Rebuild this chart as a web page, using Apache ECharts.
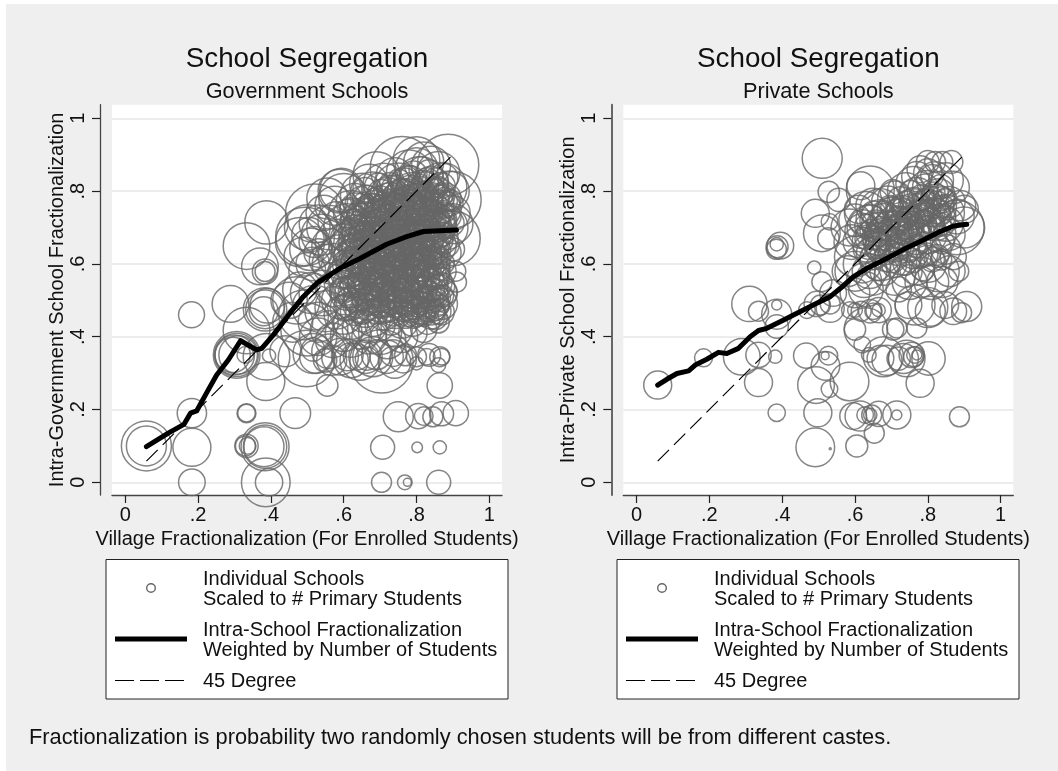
<!DOCTYPE html>
<html><head><meta charset="utf-8">
<style>html,body{margin:0;padding:0;background:#fff}#c{width:1058px;height:771px}</style>
<script src="https://cdn.jsdelivr.net/npm/echarts@6/dist/echarts.min.js"></script>
</head><body><div id="c"></div>
<script>
// tick values and labels
const tickValues = [0, 0.2, 0.4, 0.6, 0.8, 1];
const tickLabels = {0:'0', 0.2:'.2', 0.4:'.4', 0.6:'.6', 0.8:'.8', 1:'1'};
// [village fractionalization, school fractionalization, primary students]
const govOuter = [
[.058,.10,625],[.058,.10,400],[.182,.46,169],[.183,.19,215],[.183,.096,361],[.183,0,177],[.333,.19,90],[.333,.19,78],
[.333,.10,136],[.33,.10,100],[.336,.10,70],[.384,.098,576],[.384,.098,470],[.381,.098,400],[.386,0,592],[.395,0,187],
[.467,.19,235],[.75,.18,225],[.805,.182,160],[.82,.182,87],[.845,.18,100],[.869,.188,144],[.908,.19,160],
[.707,.096,144],[.802,.096,28],[.864,.096,44],[.704,0,100],[.768,0,54],[.775,0,16],[.861,0,144],[.864,.266,160],[.555,.266,114],[.386,.277,361],
[.306,.35,544],[.306,.35,470],[.3,.35,400],[.31,.35,370],[.295,.35,310],[.388,.345,544],[.395,.348,44],[.33,.35,70],
[.498,.34,802],[.516,.354,400],[.516,.365,136],[.525,.345,278],[.59,.345,336],[.645,.335,400],[.66,.345,278],[.704,.332,1002],[.68,.345,400],[.718,.345,278],
[.763,.337,178],[.80,.345,100],[.828,.345,69],[.864,.345,100],[.86,.322,54],[.869,.345,69],[.80,.327,44],[.567,.335,225],[.549,.335,136],[.636,.345,178],[.664,.34,136],[.736,.355,178],
[.62,.335,300],[.61,.35,250],[.69,.35,220],[.74,.33,260],[.77,.35,120],[.835,.35,130],[.56,.36,300],[.44,.36,240],
[.333,.649,544],[.388,.714,470],[.384,.579,160],[.384,.579,100],[.37,.593,336],[.289,.49,336],[.333,.417,544],[.384,.475,470],[.384,.475,374],[.39,.485,300],[.38,.47,210],
[.494,.675,860],[.521,.739,860],[.48,.66,600],[.50,.70,520],[.51,.64,450],[.49,.62,380],[.505,.68,300],[.52,.66,240],[.53,.71,360],[.54,.68,420],[.515,.60,280],[.50,.58,340],
[.53,.63,200],[.545,.74,310],[.56,.70,500],[.555,.78,420],[.575,.76,380],[.59,.80,480],[.60,.78,620],[.56,.65,300],[.58,.72,340],[.55,.61,260],[.57,.60,420],[.585,.66,520],
[.47,.50,560],[.49,.46,620],[.50,.42,700],[.52,.48,500],[.53,.44,400],[.55,.47,420],[.56,.42,350],[.58,.48,460],[.60,.46,380],[.48,.53,300],[.51,.52,420],[.54,.52,520],[.57,.53,300],
[.46,.44,400],[.45,.50,330],[.53,.40,350],[.57,.39,300],[.60,.41,340],[.62,.40,420],[.65,.42,380],[.67,.40,300],[.70,.41,460],[.72,.39,340],[.74,.42,310],[.76,.40,250],[.79,.41,200],[.82,.42,170],
[.76,.863,1002],[.887,.872,940],[.80,.885,544],[.90,.776,802],[.90,.67,747],[.69,.844,544],[.594,.803,470],[.908,.58,100],[.91,.55,100],[.90,.64,136],[.90,.71,400]
];
const govCore = [
[.82,.88,400],[.80,.86,460],[.84,.87,380],[.78,.85,520],[.86,.85,460],[.74,.84,350],[.71,.82,420],[.67,.82,380],[.65,.79,460],[.63,.77,340],[.68,.79,520],[.72,.79,300],[.75,.81,600],[.78,.82,340],[.81,.83,560],[.84,.82,300],[.87,.81,620],[.89,.80,400],[.86,.79,280],[.82,.80,420],
[.79,.79,500],[.76,.78,360],[.73,.76,540],[.70,.77,260],[.66,.76,420],[.62,.74,500],[.64,.72,300],[.68,.74,380],[.71,.73,460],[.75,.74,320],[.78,.76,260],[.81,.77,340],[.84,.76,520],[.87,.75,360],[.90,.74,300],[.88,.78,240],
[.61,.70,560],[.63,.69,260],[.66,.71,440],[.69,.70,300],[.72,.70,520],[.74,.71,240],[.77,.72,420],[.80,.73,300],[.83,.72,460],[.86,.72,260],[.88,.70,500],[.85,.69,340],[.82,.69,280],[.79,.68,440],[.76,.69,300],[.73,.67,380],
[.70,.66,500],[.67,.67,280],[.64,.66,400],[.61,.65,340],[.59,.62,480],[.62,.62,300],[.65,.63,520],[.68,.63,260],[.71,.62,440],[.74,.64,300],[.77,.65,460],[.80,.65,260],[.83,.66,380],[.86,.65,320],[.88,.63,240],[.85,.62,160],
[.82,.62,340],[.79,.61,300],[.76,.61,500],[.73,.60,280],[.70,.59,420],[.67,.60,340],[.64,.59,480],[.61,.58,300],[.60,.55,380],[.63,.56,260],[.66,.56,440],[.69,.56,300],[.72,.57,380],[.75,.57,260],[.78,.58,420],[.81,.58,300],
[.84,.58,360],[.87,.58,200],[.85,.55,300],[.82,.55,260],[.79,.54,380],[.76,.54,300],[.73,.54,460],[.70,.53,260],[.67,.53,340],[.64,.52,400],[.61,.52,300],[.59,.50,340],[.62,.49,260],[.65,.49,360],[.68,.50,220],[.71,.50,300],
[.74,.50,180],[.77,.51,340],[.80,.51,260],[.83,.52,300],[.86,.52,340],[.87,.49,240],[.84,.49,320],[.81,.48,260],[.78,.48,160],[.75,.48,90],[.72,.48,220],[.69,.47,160],[.66,.47,260],[.63,.47,200],[.60,.48,180],[.84,.46,200],
[.86,.47,160],[.82,.46,130],[.80,.47,240],[.77,.46,180],[.74,.47,300],[.71,.46,240],[.68,.45,320],[.65,.45,180],[.62,.44,300],[.86,.44,120],[.83,.44,150],[.79,.44,200],[.76,.44,260],[.73,.44,170],[.70,.43,220],[.67,.43,300],
[.83,.74,240],[.81,.75,200],[.79,.74,160],[.77,.75,280],[.75,.76,220],[.72,.75,180],[.69,.72,240],[.67,.69,200],[.65,.68,180],[.63,.65,160],[.66,.65,240],[.69,.65,180],[.72,.65,260],[.75,.67,200],[.78,.66,160],[.81,.67,220],
[.84,.67,180],[.87,.67,260],[.86,.70,180],[.83,.70,140],[.80,.70,180],[.77,.69,120],[.74,.69,160],[.71,.68,220],[.68,.68,140],[.65,.60,200],[.68,.58,160],[.71,.60,120],[.74,.59,200],[.77,.59,140],[.80,.60,180],[.83,.60,220],
[.86,.60,140],[.82,.57,120],[.79,.56,160],[.76,.56,180],[.73,.52,120],[.70,.55,140],[.67,.54,190],[.64,.54,130],[.61,.60,220],[.63,.60,110],[.66,.62,130],[.70,.64,150],[.73,.62,130],[.76,.63,110],[.79,.63,150],[.82,.64,120],
[.612,.738,210],[.627,.715,170],[.633,.752,240],[.648,.702,150],[.655,.735,280],[.662,.778,190],[.671,.655,230],[.678,.712,170],[.685,.758,250],[.692,.682,140],[.698,.731,210],[.703,.795,180],[.709,.644,260],[.714,.703,150],[.721,.762,230],[.727,.668,190],
[.731,.721,270],[.738,.782,160],[.744,.689,220],[.749,.743,180],[.753,.655,250],[.758,.795,210],[.764,.708,170],[.769,.767,290],[.773,.637,200],[.778,.726,150],[.784,.801,240],[.788,.679,190],[.793,.752,260],[.798,.619,170],[.803,.711,230],[.808,.789,200],
[.813,.662,150],[.818,.738,280],[.823,.815,190],[.828,.687,170],[.833,.764,230],[.838,.628,210],[.843,.706,160],[.848,.789,250],[.853,.651,180],[.858,.744,220],[.863,.677,140],[.868,.812,200],[.873,.716,170],[.878,.768,230],[.883,.654,160],[.889,.731,150],
[.602,.672,190],[.617,.637,240],[.626,.596,170],[.635,.681,210],[.644,.618,260],[.651,.574,180],[.658,.642,150],[.667,.589,230],[.674,.628,190],[.683,.603,270],[.691,.647,160],[.697,.578,220],[.705,.611,180],[.712,.557,250],[.719,.632,200],[.725,.586,170],
[.733,.619,240],[.741,.549,190],[.746,.602,150],[.752,.634,230],[.757,.572,210],[.763,.661,160],[.771,.612,270],[.776,.534,180],[.782,.596,220],[.787,.648,150],[.794,.573,240],[.801,.622,190],[.806,.539,170],[.812,.597,250],[.819,.638,160],[.824,.562,210],
[.831,.612,180],[.837,.543,230],[.842,.591,150],[.849,.636,200],[.856,.566,170],[.861,.618,130],[.867,.539,190],[.874,.602,120],[.879,.521,150],[.594,.572,210],[.607,.546,180],[.619,.523,240],[.628,.574,160],[.639,.511,220],[.647,.553,190],[.656,.527,150],
[.663,.509,230],[.672,.571,170],[.681,.526,210],[.689,.498,180],[.696,.541,240],[.703,.512,150],[.711,.529,200],[.718,.491,170],[.726,.558,220],[.735,.517,190],[.743,.484,150],[.751,.523,230],[.758,.497,170],[.766,.539,210],[.772,.487,140],[.779,.518,190],
[.786,.474,160],[.792,.528,220],[.799,.492,180],[.807,.511,150],[.814,.471,200],[.821,.528,170],[.827,.489,210],[.834,.507,140],[.841,.468,170],[.848,.523,190],[.855,.488,150],[.862,.507,130],[.868,.468,170],[.872,.512,120],[.815,.507,110],[.775,.462,150],
[.705,.472,180],[.737,.462,140],[.652,.468,150],[.668,.482,170],[.612,.482,200],[.637,.491,130],[.597,.527,170],[.728,.473,120],[.766,.473,130],[.792,.458,160],[.831,.471,120],[.852,.452,140],[.608,.623,170],[.621,.662,150],[.632,.713,130],[.668,.744,170],
[.752,.768,170],[.741,.806,190],[.767,.824,210],[.792,.846,180],[.813,.861,150],[.835,.848,190],[.852,.828,170],[.874,.836,210],[.726,.808,170],[.695,.812,190],[.659,.804,150],[.797,.776,150],[.826,.787,170],[.858,.773,130],[.892,.768,170],[.895,.712,170],
[.618,.752,120],[.624,.694,150],[.637,.731,110],[.642,.673,130],[.651,.716,160],[.659,.688,120],[.665,.757,140],[.673,.726,110],[.677,.677,150],[.682,.701,120],[.688,.778,130],[.694,.742,160],[.699,.664,110],[.706,.721,140],[.711,.771,120],[.716,.683,150],
[.722,.738,110],[.728,.792,140],[.734,.654,130],[.739,.708,120],[.743,.761,150],[.748,.676,110],[.754,.724,140],[.759,.641,120],[.764,.752,130],[.768,.688,160],[.772,.806,110],[.777,.662,140],[.781,.741,120],[.786,.702,150],[.791,.776,110],[.796,.638,130],
[.799,.756,120],[.804,.689,140],[.809,.812,110],[.812,.723,160],[.817,.654,120],[.821,.767,130],[.826,.708,110],[.829,.832,140],[.834,.642,120],[.839,.741,150],[.844,.668,110],[.847,.807,130],[.851,.722,120],[.856,.765,110],[.861,.693,140],[.865,.639,110],
[.869,.786,120],[.873,.681,130],[.877,.741,110],[.881,.701,120],[.885,.772,100],[.612,.612,140],[.623,.642,110],[.636,.607,150],[.641,.562,120],[.649,.652,130],[.654,.598,110],[.661,.622,140],[.669,.572,120],[.676,.649,110],[.679,.592,150],[.687,.632,120],
[.693,.561,130],[.701,.622,110],[.708,.578,140],[.713,.652,120],[.717,.604,150],[.723,.571,110],[.729,.637,130],[.736,.589,120],[.742,.622,140],[.748,.558,110],[.755,.612,130],[.761,.589,120],[.767,.632,110],[.774,.572,150],[.779,.618,120],[.785,.552,130],
[.789,.621,110],[.795,.598,140],[.802,.568,120],[.808,.636,110],[.815,.582,130],[.822,.612,120],[.828,.572,140],[.835,.594,110],[.841,.622,120],[.846,.562,110],[.852,.602,130],[.858,.542,110],[.864,.583,100],[.601,.532,130],[.613,.508,110],[.622,.539,140],
[.631,.497,120],[.643,.532,130],[.652,.502,110],[.659,.549,140],[.667,.488,120],[.674,.517,130],[.684,.553,110],[.691,.512,140],[.698,.482,120],[.706,.532,110],[.713,.498,130],[.722,.522,120],[.729,.489,110],[.738,.542,140],[.746,.503,120],[.753,.478,130],
[.761,.521,110],[.769,.493,140],[.777,.541,120],[.783,.498,110],[.791,.479,130],[.797,.516,120],[.804,.483,110],[.811,.532,140],[.818,.491,120],[.824,.512,130],[.831,.482,110],[.838,.522,120],[.844,.497,130],[.851,.473,110],[.858,.512,120],[.864,.487,100],
[.622,.612,100],[.634,.637,110],[.648,.582,120],[.656,.669,100],[.664,.611,110],[.671,.691,100],[.681,.662,120],[.689,.721,100],[.696,.612,110],[.702,.688,120],[.709,.752,100],[.717,.722,110],[.724,.643,120],[.732,.771,100],[.737,.692,110],[.745,.652,100],
[.751,.712,120],[.757,.782,100],[.762,.672,110],[.771,.732,100],[.776,.788,110],[.783,.682,120],[.788,.728,100],[.794,.662,110],[.801,.792,100],[.806,.742,120],[.811,.681,100],[.816,.782,110],[.825,.652,100],[.831,.732,120],[.836,.692,100],[.842,.772,110],
[.849,.682,100],[.854,.742,100],[.859,.812,110],[.866,.722,100],[.871,.662,110],[.876,.792,100],[.882,.722,110],[.704,.762,110],[.697,.702,100],[.677,.765,100],[.655,.768,110],[.642,.742,100],[.628,.672,100],[.727,.822,110],[.751,.832,110],[.782,.842,100]
];
const privOuter = [
[.51,.89,400],[.528,.798,114],[.555,.776,136],[.491,.739,196],[.509,.684,336],[.53,.716,69],[.527,.67,114],[.642,.803,576],[.616,.815,196],
[.386,.647,121],[.395,.65,178],[.385,.654,44],[.384,.64,100],[.488,.59,44],[.509,.551,100],[.31,.49,312],[.335,.47,100],[.385,.487,25],[.385,.462,225],[.385,.428,136],
[.468,.473,69],[.495,.49,160],[.505,.487,100],[.532,.49,100],[.532,.478,196],[.54,.52,178],[.184,.342,81],[.058,.267,196],[.289,.345,336],[.335,.35,160],[.381,.345,44],[.335,.274,196],[.385,.191,75],
[.466,.348,160],[.527,.348,87],[.518,.348,16],[.519,.32,205],[.493,.267,336],[.53,.256,69],[.585,.277,374],[.498,.191,196],[.491,.096,374],[.532,.092,1],[.605,.10,121],
[.595,.182,178],[.614,.182,225],[.628,.185,69],[.646,.185,100],[.665,.188,160],[.642,.185,44],[.715,.185,196],[.715,.185,25],[.653,.135,100],[.887,.18,100],
[.802,.34,278],[.779,.272,196],[.742,.34,336],[.756,.35,160],[.761,.345,100],[.765,.35,69],[.77,.35,25],[.733,.34,225],[.72,.34,136],[.688,.335,225],[.678,.345,400],[.67,.34,178],[.638,.35,54],[.62,.378,69],
[.60,.42,114],[.63,.42,470],[.586,.473,69],[.60,.473,54],[.617,.47,100],[.642,.47,136],[.665,.473,160],[.665,.473,44],[.65,.47,69],[.705,.42,114],[.77,.424,100],[.747,.487,178],[.807,.47,225],[.80,.48,400],[.848,.487,178],[.87,.47,178],[.893,.466,100],[.907,.483,225],[.715,.424,100],[.765,.487,400]
];
const privCore = [
[.625,.555,300],[.60,.58,400],[.58,.58,240],[.60,.62,420],[.59,.66,300],[.585,.70,340],[.60,.72,260],[.61,.75,200],[.63,.74,460],[.65,.76,300],[.67,.75,420],[.69,.77,260],[.71,.78,300],[.74,.80,340],[.76,.82,300],[.77,.84,230],
[.80,.85,200],[.82,.88,110],[.80,.88,130],[.84,.88,110],[.865,.88,130],[.78,.86,180],[.82,.83,340],[.85,.83,300],[.87,.81,260],[.80,.80,420],[.77,.79,300],[.83,.79,260],[.86,.77,240],[.89,.76,230],[.90,.75,200],[.88,.73,300],
[.85,.74,340],[.82,.76,460],[.79,.76,220],[.76,.75,420],[.73,.74,300],[.70,.73,360],[.67,.72,420],[.64,.70,500],[.62,.69,300],[.61,.66,240],[.64,.66,300],[.67,.68,260],[.70,.69,420],[.73,.70,260],[.76,.71,360],[.79,.72,300],
[.82,.72,420],[.85,.71,300],[.88,.70,740],[.90,.70,420],[.86,.68,240],[.83,.68,300],[.80,.68,360],[.77,.67,260],[.74,.66,420],[.71,.65,260],[.68,.65,360],[.65,.63,280],[.62,.60,360],[.64,.58,300],[.67,.61,420],[.70,.62,260],
[.73,.62,340],[.76,.63,240],[.79,.64,300],[.82,.64,260],[.85,.64,220],[.87,.62,170],[.885,.58,100],[.86,.58,240],[.83,.58,420],[.80,.60,340],[.77,.59,300],[.74,.58,260],[.71,.57,420],[.68,.58,200],[.65,.56,280],[.63,.53,300],
[.75,.55,300],[.78,.55,240],[.81,.55,300],[.84,.55,240],[.72,.53,160],[.60,.52,220],[.66,.66,180],[.69,.66,160],[.72,.68,180],[.75,.69,140],[.78,.70,180],[.81,.70,160],[.84,.66,140],[.66,.69,130],[.63,.67,120],[.78,.74,200],[.81,.74,180],[.75,.72,170],[.72,.72,180],[.69,.71,150],
[.622,.713,170],[.634,.683,130],[.641,.726,190],[.653,.672,150],[.658,.708,210],[.664,.651,170],[.672,.698,140],[.679,.729,180],[.684,.672,160],[.691,.693,120],[.697,.752,170],[.704,.668,150],[.712,.709,190],[.718,.748,130],[.726,.689,170],[.733,.724,150],
[.741,.763,180],[.747,.678,140],[.754,.708,170],[.762,.772,190],[.769,.694,150],[.774,.733,130],[.783,.783,160],[.788,.712,170],[.795,.742,140],[.802,.772,150],[.809,.718,170],[.816,.794,130],[.824,.745,160],[.832,.708,140],[.838,.776,170],[.846,.732,130],
[.631,.641,170],[.647,.618,150],[.657,.645,130],[.663,.589,160],[.674,.636,140],[.686,.615,170],[.694,.638,120],[.708,.596,150],[.717,.627,130],[.728,.649,160],[.737,.601,140],[.746,.638,120],[.758,.609,150],[.767,.649,130],[.776,.622,160],[.787,.586,140],
[.798,.627,120],[.812,.612,150],[.826,.622,130],[.837,.612,110],[.703,.798,150],[.725,.776,170],[.752,.798,130],[.793,.812,160],[.812,.842,130],[.836,.812,150],
[.632,.704,140],[.644,.692,120],[.651,.739,150],[.662,.714,110],[.669,.681,130],[.676,.742,120],[.688,.712,140],[.695,.678,110],[.702,.754,130],[.708,.702,120],[.716,.731,110],[.722,.673,130],[.731,.752,120],[.738,.694,140],[.743,.728,110],[.751,.761,130],
[.758,.688,120],[.764,.726,110],[.771,.762,130],[.778,.694,120],[.784,.742,140],[.791,.778,110],[.797,.702,120],[.803,.748,130],[.811,.784,110],[.818,.704,120],[.826,.768,130],[.834,.736,110],[.842,.758,120],[.851,.778,110]
];
const govSchools = govOuter.concat(govCore);
const privSchools = privOuter.concat(privCore);
const govLine = [[.058,.098],[.118,.135],[.161,.159],[.179,.19],[.196,.196],[.223,.245],[.251,.295],[.283,.336],[.317,.389],[.361,.364],[.375,.368],[.407,.405],[.452,.464],[.489,.51],[.526,.547],[.59,.588],[.645,.615],[.718,.654],[.773,.675],[.819,.689],[.864,.691],[.91,.693]];
const privLine = [[.058,.267],[.083,.283],[.111,.299],[.143,.306],[.161,.322],[.193,.338],[.225,.357],[.248,.354],[.28,.368],[.312,.40],[.335,.417],[.358,.423],[.404,.446],[.45,.469],[.495,.492],[.532,.51],[.56,.533],[.596,.565],[.633,.588],[.679,.611],[.734,.64],[.788,.666],[.834,.689],[.871,.704],[.907,.709]];
const degree45 = [[.058,.058],[.895,.895]];
const panelTitles = ['School Segregation','School Segregation'];
const panelSubtitles = ['Government Schools','Private Schools'];
const yNames = ['Intra-Government School Fractionalization','Intra-Private School Fractionalization'];
const xName = 'Village Fractionalization (For Enrolled Students)';
const legendTexts = [['Individual Schools','Scaled to # Primary Students'],['Intra-School Fractionalization','Weighted by Number of Students'],['45 Degree']];
const note = 'Fractionalization is probability two randomly chosen students will be from different castes.';

const FONT = '"Liberation Sans", Arial, sans-serif';
const GW = 390, GH = 390.3, GT = 104.7, LEFTS = [112, 623.3];
const XMIN = -0.0365, XMAX = 1.035, YMIN = -0.0349, YMAX = 1.0374;
const DASH = [16, 7];
const fmt = v => tickLabels[Math.round(v * 10) / 10] || '';
const grids = LEFTS.map(l => ({left:l, top:GT, width:GW, height:GH, show:true, backgroundColor:'#fff', borderWidth:0}));
const xAxes = LEFTS.map((l,i) => ({type:'value', gridIndex:i, min:XMIN, max:XMAX,
  name:xName, nameLocation:'middle', nameGap:33, nameTextStyle:{fontFamily:FONT,fontSize:20,color:'#111'},
  axisLine:{show:true,onZero:false,lineStyle:{color:'#444',width:1.3}},
  axisTick:{show:true,length:8,customValues:tickValues,lineStyle:{color:'#222',width:1.2}},
  axisLabel:{fontFamily:FONT,fontSize:20,color:'#111',margin:10,customValues:tickValues,formatter:fmt,hideOverlap:false},
  splitLine:{show:false}}));
const yAxes = LEFTS.map((l,i) => ({type:'value', gridIndex:i, min:YMIN, max:YMAX, offset:12,
  name:yNames[i], nameLocation:'middle', nameGap:32, nameTextStyle:{fontFamily:FONT,fontSize:20,color:'#111'},
  axisLine:{show:true,onZero:false,lineStyle:{color:i?'#666':'#444',width:i?2:1.3}},
  axisTick:{show:true,length:8,customValues:tickValues,lineStyle:{color:'#222',width:1.2}},
  axisLabel:{fontFamily:FONT,fontSize:20,color:'#111',margin:22,rotate:90,customValues:tickValues,formatter:fmt,hideOverlap:false,verticalAlign:'middle',align:'center'},
  splitLine:{show:true,customValues:tickValues,lineStyle:{color:'#ececec',width:2}}}));
const series = [];
[[govSchools,govLine],[privSchools,privLine]].forEach(([pts,line],i) => {
  series.push({name:'Individual Schools',type:'scatter',xAxisIndex:i,yAxisIndex:i,data:pts,clip:false,z:2,
    symbolSize:d=>2*Math.sqrt(d[2]),encode:{x:0,y:1},large:false,progressive:0,
    itemStyle:{color:'rgba(0,0,0,0)',borderColor:'#666',borderWidth:1.5},silent:true});
  series.push({name:'45 Degree',type:'line',xAxisIndex:i,yAxisIndex:i,data:degree45,showSymbol:false,z:3,
    lineStyle:{color:'#000',width:1.2,type:DASH},silent:true});
  series.push({name:'Intra-School Fractionalization',type:'line',xAxisIndex:i,yAxisIndex:i,data:line,showSymbol:false,z:4,
    lineStyle:{color:'#000',width:5,cap:'round',join:'round'},silent:true});
});
const graphic = [{type:'rect',z:-10,silent:true,shape:{x:6,y:4,width:1052,height:767},style:{fill:'#efefef'}}];
[0,511].forEach(dx => {
  graphic.push({type:'rect',z:1,silent:true,shape:{x:106+dx,y:559.5,width:402,height:139.5},style:{fill:'#fff',stroke:'#222',lineWidth:1}});
  graphic.push({type:'circle',z:2,silent:true,shape:{cx:151+dx,cy:588,r:4.3},style:{fill:'#fff',stroke:'#666',lineWidth:1.4}});
  graphic.push({type:'line',z:2,silent:true,shape:{x1:115+dx,y1:639,x2:187+dx,y2:639},style:{stroke:'#000',lineWidth:5}});
  graphic.push({type:'line',z:2,silent:true,shape:{x1:115+dx,y1:680.5,x2:187+dx,y2:680.5},style:{stroke:'#000',lineWidth:1,lineDash:[19,6]}});
  const ys = [[579,599],[630,650],[681]];
  legendTexts.forEach((lines,k) => lines.forEach((t,j) => graphic.push({type:'text',z:2,silent:true,
    style:{x:203+dx,y:ys[k][j],text:t,font:'20px '+FONT,fill:'#111',verticalAlign:'middle'}})));
});
graphic.push({type:'text',z:2,silent:true,style:{x:29,y:738,text:note,font:'21.8px '+FONT,fill:'#111',verticalAlign:'middle'}});
const titles = LEFTS.map((l,i) => ({text:panelTitles[i],subtext:panelSubtitles[i],left:l+GW/2,top:45,textAlign:'center',itemGap:8,padding:0,
  textStyle:{fontFamily:FONT,fontSize:27.8,fontWeight:'normal',color:'#111'},
  subtextStyle:{fontFamily:FONT,fontSize:21.7,color:'#111'}}));
const chart = echarts.init(document.getElementById('c'),null,{renderer:'canvas'});
chart.setOption({animation:false,backgroundColor:'#fff',title:titles,grid:grids,xAxis:xAxes,yAxis:yAxes,series,graphic});
</script></body></html>
